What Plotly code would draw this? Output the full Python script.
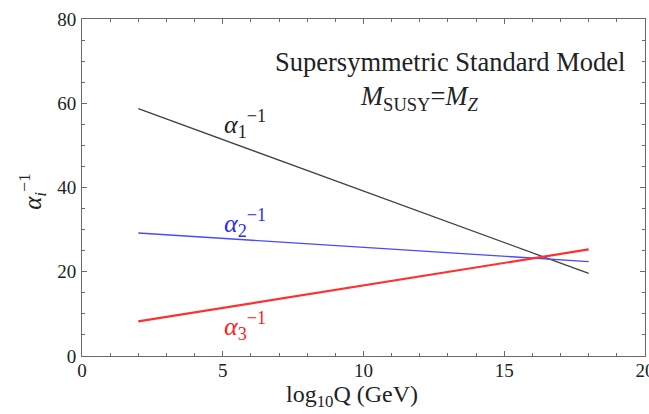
import plotly.graph_objects as go

# Inverse gauge couplings vs log10 of the energy scale
log_q = [2, 18]
alpha1_inv = [58.7, 19.6]
alpha2_inv = [29.2, 22.4]
alpha3_inv = [8.2, 25.3]

x_ticks = [0, 5, 10, 15, 20]
y_ticks = [0, 20, 40, 60, 80]

serif = "Liberation Serif, Times New Roman, serif"
frame = "#6a6a6a"
text_col = "#222222"

fig = go.Figure()
fig.add_trace(go.Scatter(x=log_q, y=alpha1_inv, mode="lines",
                         line=dict(color="#404040", width=1.3)))
fig.add_trace(go.Scatter(x=log_q, y=alpha2_inv, mode="lines",
                         line=dict(color="#4a4aff", width=1.3)))
fig.add_trace(go.Scatter(x=log_q, y=alpha3_inv, mode="lines",
                         line=dict(color="#ff3030", width=2.2)))

axis_common = dict(
    showgrid=False, zeroline=False, showline=True, linecolor=frame, linewidth=1,
    mirror="ticks", ticks="inside", ticklen=5, tickcolor=frame, tickwidth=1,
    tickfont=dict(family=serif, size=19, color=text_col),
    ticklabeloverflow="allow", automargin=False,
)

fig.update_xaxes(range=[0, 20], tickvals=x_ticks, ticktext=[str(v) for v in x_ticks],
                 minor=dict(dtick=1, ticks="inside", ticklen=3, tickcolor=frame),
                 ticklabelstandoff=-3,
                 **axis_common)
fig.update_yaxes(range=[0, 80], tickvals=y_ticks, ticktext=[str(v) for v in y_ticks],
                 minor=dict(dtick=5, ticks="inside", ticklen=3, tickcolor=frame),
                 ticklabelstandoff=1,
                 **axis_common)

# Axis titles
fig.add_annotation(xref="paper", yref="paper", x=0.48, y=-0.12,
                   text="log<sub>10</sub>Q (GeV)", showarrow=False,
                   xanchor="center", yanchor="middle",
                   font=dict(family=serif, size=24, color=text_col))
fig.add_annotation(xref="paper", yref="paper", x=-0.089, y=0.49,
                   text="<i>α<sub>i</sub></i><sup>−1</sup>", showarrow=False, textangle=-90,
                   xanchor="center", yanchor="middle",
                   font=dict(family=serif, size=25, color=text_col))

# Curve labels
curve_labels = [
    (5.8, 55.0, "<i>α</i><sub>1</sub><sup>−1</sup>", "#222222"),
    (5.8, 31.6, "<i>α</i><sub>2</sub><sup>−1</sup>", "#2a2aff"),
    (5.8, 7.2, "<i>α</i><sub>3</sub><sup>−1</sup>", "#ff2020"),
]
for x, y, txt, col in curve_labels:
    fig.add_annotation(x=x, y=y, text=txt, showarrow=False,
                       font=dict(family=serif, size=26, color=col))

fig.add_annotation(x=13.07, y=69.8, text="Supersymmetric Standard Model", showarrow=False,
                   font=dict(family=serif, size=26.5, color="#222222"))
fig.add_annotation(x=12.0, y=61.2, text="<i>M</i><sub>SUSY</sub>=<i>M<sub>Z</sub></i>",
                   showarrow=False, font=dict(family=serif, size=26.5, color="#222222"))

fig.update_layout(
    width=649, height=414, showlegend=False,
    margin=dict(l=82, r=4, t=19, b=58),
    paper_bgcolor="white", plot_bgcolor="white",
)

fig.write_html("out.html")
